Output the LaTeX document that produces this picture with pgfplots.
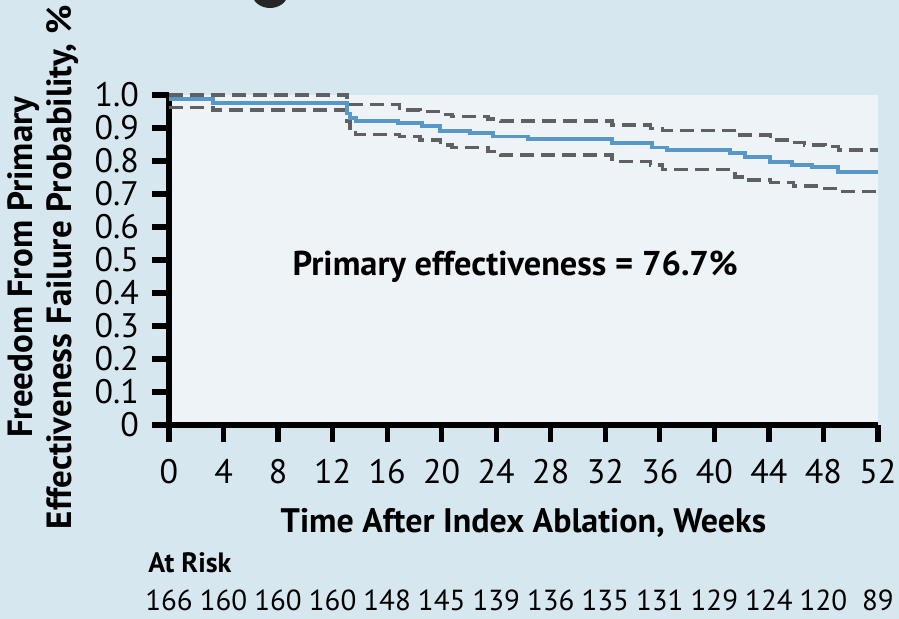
\documentclass[border=0pt]{standalone}
\usepackage{fontspec}
\setmainfont{PT Sans}
\usepackage{pgfplots}
\usepackage{pgfplotstable}
\pgfplotsset{compat=1.18}

\definecolor{outerbg}{RGB}{214,231,240}
\definecolor{plotbg}{RGB}{238,243,247}
\definecolor{kmblue}{RGB}{88,152,200}
\definecolor{cigray}{RGB}{95,95,100}

% Kaplan-Meier estimate of freedom from primary effectiveness failure
\pgfplotstableread{
week  surv
0     0.988
3.23  0.976
13.05 0.944
13.27 0.930
13.71 0.921
16.8  0.915
18.56 0.905
19.88 0.892
22.08 0.886
23.76 0.874
26.33 0.866
32.49 0.854
35.42 0.841
36.52 0.833
41.14 0.823
42.25 0.813
44.08 0.798
45.7  0.788
47.16 0.782
49.07 0.767
52    0.767
}\kmest

% upper 95% confidence bound
\pgfplotstableread{
week  surv
0     1.000
13.05 0.980
13.27 0.972
16.9  0.955
18.4  0.950
19.9  0.941
20.75 0.934
23.4  0.927
24.3  0.921
32.5  0.909
35.3  0.899
36.2  0.893
41.7  0.879
44.1  0.864
45.5  0.856
46.6  0.848
48.1  0.843
49.1  0.833
52    0.833
}\kmupper

% lower 95% confidence bound
\pgfplotstableread{
week  surv
0     0.962
3.23  0.954
13.05 0.919
13.27 0.894
13.7  0.880
16.9  0.874
18.4  0.864
19.9  0.848
20.75 0.840
23.4  0.828
24.3  0.818
32.5  0.798
35.3  0.788
36.2  0.775
41.5  0.752
42.4  0.742
44.1  0.734
45.8  0.724
48.1  0.717
49.4  0.707
52    0.707
}\kmlower

% patients at risk, every 4 weeks
\pgfplotstableread{
week  n
0     166
4     160
8     160
12    160
16    148
20    145
24    139
28    136
32    135
36    131
40    129
44    124
48    120
52    89
}\atrisk

\begin{document}
\begin{tikzpicture}
\clip (0,0) rectangle (449.5pt,309.5pt);
\fill[outerbg] (0,0) rectangle (449.5pt,309.5pt);
\fill[black!85] (135pt,313pt) ellipse (9pt and 7.5pt);
\begin{axis}[
  at={(84.5pt,97pt)}, anchor=south west,
  scale only axis, width=354.5pt, height=165pt,
  xmin=0, xmax=52, ymin=0, ymax=1,
  axis x line=bottom, axis y line=left,
  axis line style={-, line width=2.8pt, black},
  every outer x axis line/.append style={line width=2.8pt},
  every outer y axis line/.append style={line width=2.8pt},
  xtick={0,4,...,52},
  ytick={0,0.1,0.2,0.3,0.4,0.5,0.6,0.7,0.8,0.9,1},
  yticklabels={0,0.1,0.2,0.3,0.4,0.5,0.6,0.7,0.8,0.9,1.0},
  tick align=outside,
  major tick length=8.5pt,
  major tick style={line width=2.6pt, black},
  tick label style={font=\fontsize{17}{19}\selectfont},
  xticklabel style={yshift=-5pt},
  yticklabel style={xshift=-3pt},
  /pgf/number format/assume math mode=true,
  axis background/.style={fill=plotbg},
  clip=false,
  xlabel={Time After Index Ablation, Weeks},
  xlabel style={font=\bfseries\fontsize{17}{20}\selectfont,
    at={(axis description cs:0.5,-0.327)}, anchor=base},
  ylabel={Freedom From Primary\\Effectiveness Failure Probability, \%},
  ylabel style={font=\bfseries\fontsize{17.5}{19.5}\selectfont, align=center,
    at={(axis description cs:-0.178,0.478)}, anchor=center},
]
\addplot[const plot, cigray, line width=1.7pt, dash pattern=on 7pt off 3.5pt]
  table[x=week, y=surv] {\kmupper};
\addplot[const plot, cigray, line width=1.7pt, dash pattern=on 7pt off 3.5pt]
  table[x=week, y=surv] {\kmlower};
\addplot[const plot, kmblue, line width=1.9pt]
  table[x=week, y=surv] {\kmest};

% at-risk counts written under the time axis
\addplot[draw=none, mark=none, nodes near coords, point meta=explicit symbolic,
  nodes near coords style={anchor=base, inner sep=0pt,
    font=\fontsize{14.5}{16}\selectfont}]
  table[x=week, y expr=-0.561, meta=n] {\atrisk};

\node[font=\bfseries\fontsize{17.2}{19}\selectfont] at (axis cs:25.4,0.479)
  {Primary effectiveness = 76.7\%};

\node[font=\bfseries\fontsize{14}{16}\selectfont, anchor=base west, inner sep=0pt]
  at (axis cs:-1.54,-0.448) {At Risk};
\end{axis}
\end{tikzpicture}
\end{document}
